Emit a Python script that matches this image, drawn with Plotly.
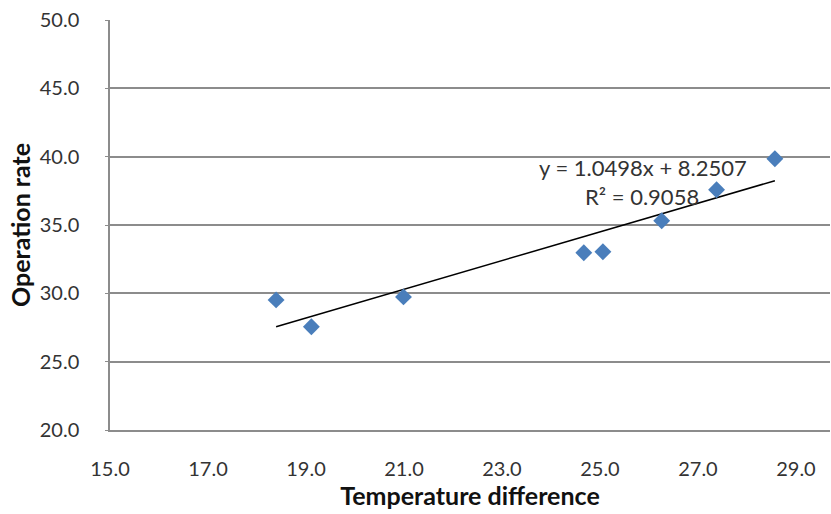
import plotly.graph_objects as go

# Measured operation rate against temperature difference
temp_diff = [18.39, 19.11, 20.99, 24.67, 25.06, 26.26, 27.38, 28.57]
operation_rate = [29.52, 27.55, 29.74, 32.97, 33.04, 35.31, 37.58, 39.85]

# Linear trendline coefficients and fit quality
slope = 1.0498
intercept = 8.2507
r_squared = 0.9058

x_ticks = [15, 17, 19, 21, 23, 25, 27, 29]
y_ticks = [20, 25, 30, 35, 40, 45, 50]

W, H = 831, 514
L, R, T, B = 110, 1, 20, 84
FONT = "Lato"

trend_x = [min(temp_diff), max(temp_diff)]
trend_y = [slope * v + intercept for v in trend_x]

fig = go.Figure()
fig.add_trace(go.Scatter(
    x=trend_x, y=trend_y, mode="lines",
    line=dict(color="#000000", width=1.5),
    hoverinfo="skip", showlegend=False,
))
fig.add_trace(go.Scatter(
    x=temp_diff, y=operation_rate, mode="markers",
    marker=dict(symbol="diamond", size=13, color="#4A7EBB",
                line=dict(width=0)),
    showlegend=False,
))

plot_w = W - L - R
x_max = 15 + 14 * (plot_w - 1) / (795 - 110)

fig.update_layout(
    width=W, height=H,
    margin=dict(l=L, r=R, t=T, b=B, pad=0),
    paper_bgcolor="white", plot_bgcolor="white",
    font=dict(family=FONT, size=20, color="#333333"),
    xaxis=dict(
        range=[15, x_max], tickvals=x_ticks,
        ticktext=[f"{v:.1f}" for v in x_ticks],
        showgrid=False, zeroline=False,
        showline=True, linecolor="#8C8C8C", linewidth=1.5,
        ticks="", ticklabelstandoff=20,
        title=dict(text="<b>Temperature difference</b>", standoff=8,
                   font=dict(family=FONT, size=25, color="#111111")),
    ),
    yaxis=dict(
        range=[20, 50], tickvals=y_ticks,
        ticktext=[f"{v:.1f}" for v in y_ticks],
        showgrid=True, gridcolor="#8C8C8C", gridwidth=1.5,
        zeroline=False,
        showline=True, linecolor="#8C8C8C", linewidth=1.5,
        ticks="outside", ticklen=3, tickcolor="#8C8C8C",
        ticklabelstandoff=22,
        title=dict(text="<b>Operation rate</b>", standoff=2,
                   font=dict(family=FONT, size=25, color="#111111")),
    ),
    annotations=[
        dict(text=f"y = {slope:.4f}x + {intercept:.4f}", xref="x", yref="y",
             x=15 + (642 - L) / 48.93, y=50 - (167 - T) / 13.65,
             xanchor="center", yanchor="middle", showarrow=False,
             font=dict(family=FONT, size=22, color="#333333")),
        dict(text=f"R² = {r_squared:.4f}", xref="x", yref="y",
             x=15 + (641 - L) / 48.93, y=50 - (196 - T) / 13.65,
             xanchor="center", yanchor="middle", showarrow=False,
             font=dict(family=FONT, size=22, color="#333333")),
    ],
)

fig.write_html("out.html")
